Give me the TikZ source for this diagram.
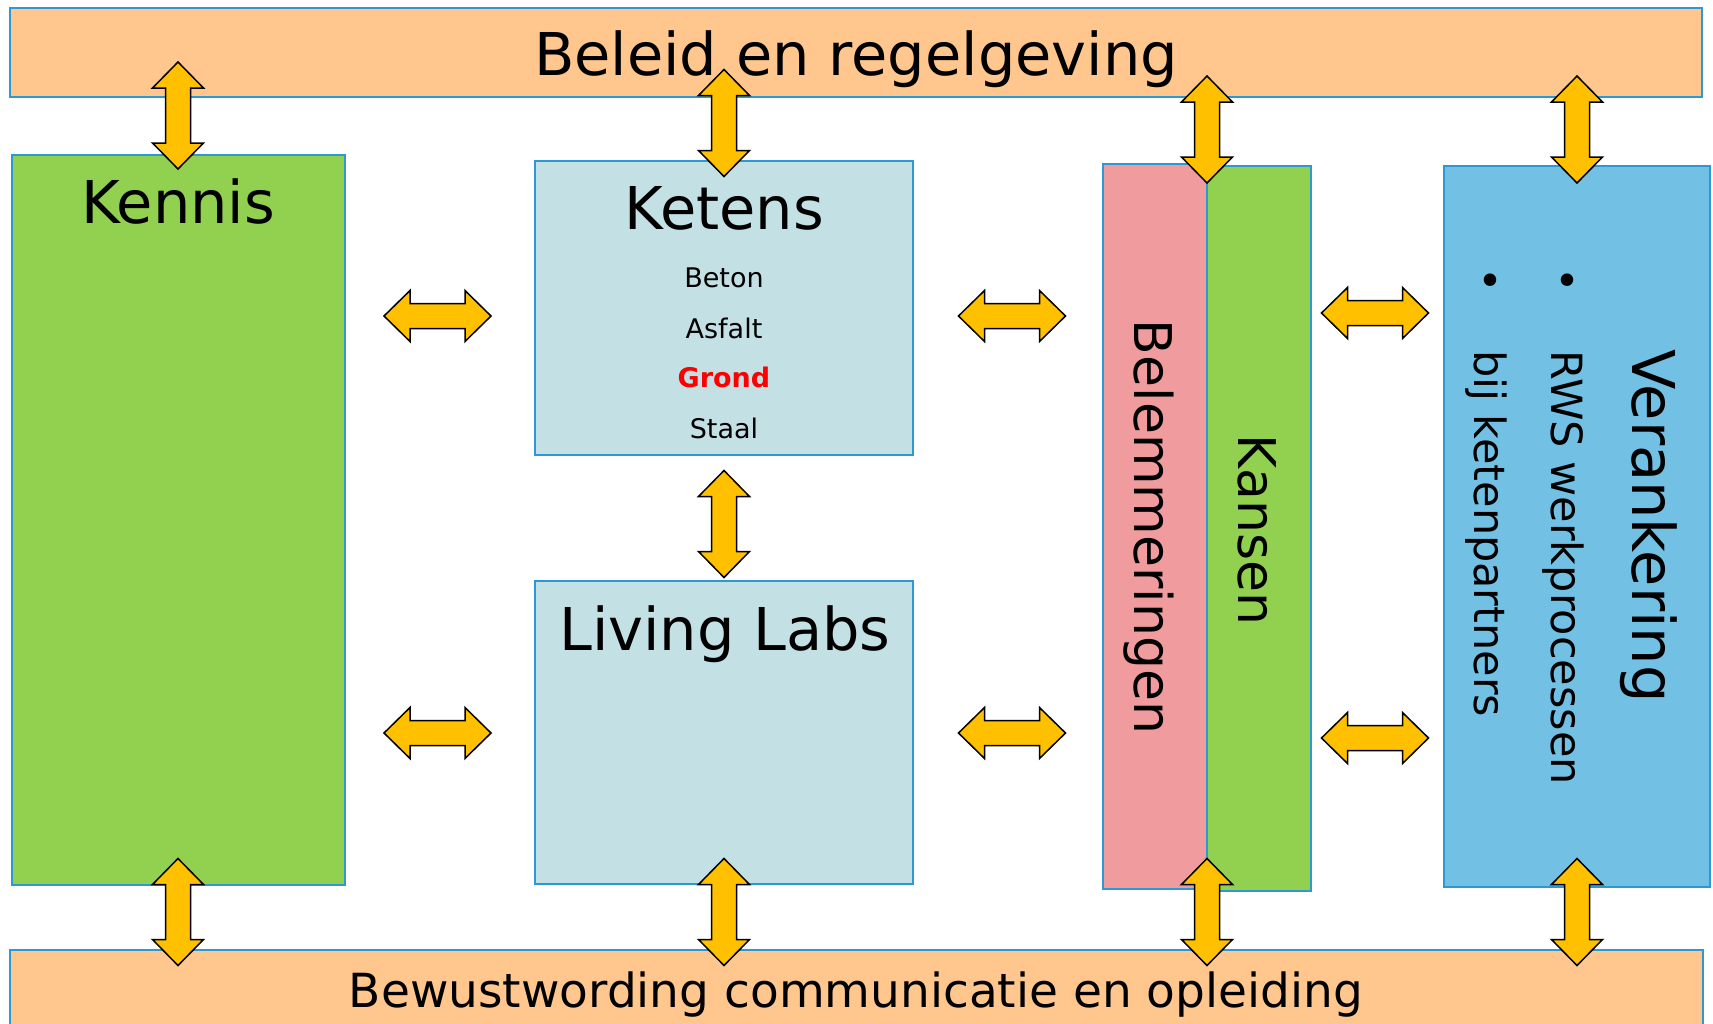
\documentclass[tikz,border=0pt]{standalone}
\usepackage{fontspec}
\setmainfont{DejaVu Sans}
\usepackage{tikz}

\definecolor{barorange}{RGB}{255,198,142}
\definecolor{boxline}{RGB}{46,152,210}
\definecolor{kgreen}{RGB}{146,208,80}
\definecolor{kblue}{RGB}{195,224,229}
\definecolor{kpink}{RGB}{240,155,157}
\definecolor{vblue}{RGB}{114,193,229}
\definecolor{arrowyellow}{RGB}{255,192,0}

\begin{document}
\begin{tikzpicture}[
    x=1pt, y=-1pt,
    every node/.style={inner sep=0pt, outer sep=0pt},
    box/.style={rectangle, draw=boxline, line width=1.2pt},
    big/.style={font=\fontsize{59}{59}\selectfont},
    side/.style={font=\fontsize{52}{52}\selectfont, rotate=-90},
    mid/.style={font=\fontsize{43}{43}\selectfont, rotate=-90, anchor=base west},
    small/.style={font=\fontsize{27}{27}\selectfont},
    dblarrow/.pic={
        \draw[fill=arrowyellow, draw=black, line width=1.5pt, line join=miter]
            (-53.5,0) -- (-27.5,25.5) -- (-27.5,12.5) -- (27.5,12.5) -- (27.5,25.5)
            -- (53.5,0) -- (27.5,-25.5) -- (27.5,-12.5) -- (-27.5,-12.5) -- (-27.5,-25.5) -- cycle;
    }
]
\useasboundingbox (0,0) rectangle (1713,1023);

% bars
\node[box, fill=barorange, minimum width=1692pt, minimum height=89pt] (beleid) at (856,52.5) {};
\node[box, fill=barorange, minimum width=1693pt, minimum height=80pt] (bewust) at (856.5,990) {};

% boxes
\node[box, fill=kgreen, minimum width=333pt, minimum height=730pt] (kennis) at (178.5,520) {};
\node[box, fill=kblue, minimum width=378pt, minimum height=294pt] (ketens) at (724,308) {};
\node[box, fill=kblue, minimum width=378pt, minimum height=303pt] (living) at (724,732.5) {};
\node[box, fill=kpink, minimum width=104pt, minimum height=725pt] (belem) at (1155,526.5) {};
\node[box, fill=kgreen, minimum width=104pt, minimum height=725pt] (kansen) at (1259,528.5) {};
\node[box, fill=vblue, minimum width=266pt, minimum height=721pt] (veranker) at (1577,526.5) {};

% texts
\node[big, anchor=base] (beleidlbl) at (856,75) {Beleid en regelgeving};
\node[font=\fontsize{47}{47}\selectfont, anchor=base] (bewustlbl) at (856,1007) {Bewustwording communicatie en opleiding};
\node[big, anchor=base] (kennislbl) at (178,223) {Kennis};
\node[big, anchor=base] (ketenslbl) at (724,229) {Ketens};
\node[small, anchor=base] (beton) at (724,287) {Beton};
\node[small, anchor=base] (asfalt) at (724,338) {Asfalt};
\node[small, anchor=base, text=red, font=\fontsize{27}{27}\selectfont\bfseries] (grond) at (724,387) {Grond};
\node[small, anchor=base] (staal) at (724,438) {Staal};
\node[big, anchor=base] (livinglbl) at (725,650) {Living Labs};
\node[side, anchor=base] (belemlbl) at (1134,527) {Belemmeringen};
\node[side, anchor=base] (kansenlbl) at (1238,530) {Kansen};
\node[big, rotate=-90, anchor=base west] (verankerlbl) at (1632,349) {Verankering};
\node[mid] (bulrws) at (1551,267) {•};
\node[mid] (rwslbl) at (1551,350) {RWS werkprocessen};
\node[mid] (bulbij) at (1474,267) {•};
\node[mid] (bijlbl) at (1474,350) {bij ketenpartners};

% arrows
\pic[rotate=90] at (178,115.5) {dblarrow};
\pic[rotate=90] at (724,123) {dblarrow};
\pic[rotate=90] at (1207,129.5) {dblarrow};
\pic[rotate=90] at (1577,129.5) {dblarrow};
\pic[rotate=90] at (724,524) {dblarrow};
\pic[rotate=90] at (178,912) {dblarrow};
\pic[rotate=90] at (724,912) {dblarrow};
\pic[rotate=90] at (1207,912) {dblarrow};
\pic[rotate=90] at (1577,912) {dblarrow};
\pic at (437.5,316) {dblarrow};
\pic at (437.5,733) {dblarrow};
\pic at (1012,316) {dblarrow};
\pic at (1012,733) {dblarrow};
\pic at (1375,313) {dblarrow};
\pic at (1375,738) {dblarrow};
\end{tikzpicture}
\end{document}
